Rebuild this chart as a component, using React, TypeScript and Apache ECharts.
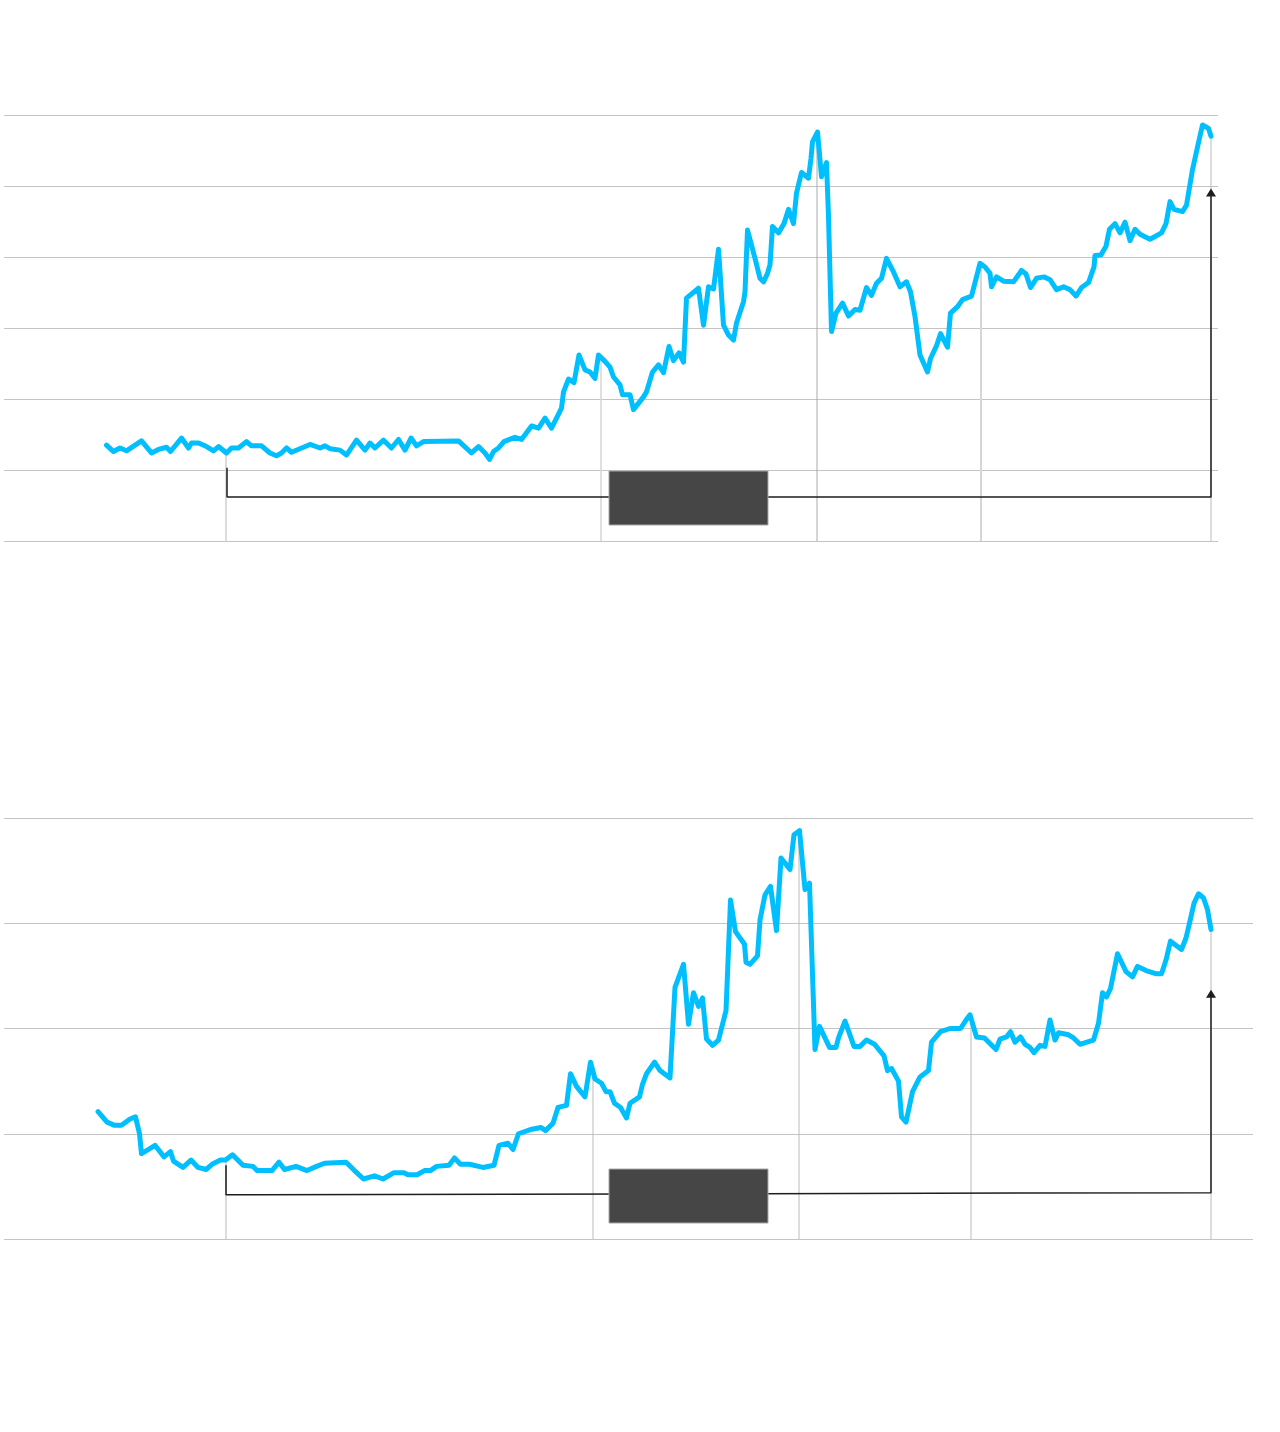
import React, { useEffect, useRef } from "react";
import * as echarts from "echarts";

// Period index (t) and value pairs
const topSeries: [number, number][] = [
  [20.5, 13.5], [21.9, 12.6], [23.2, 13.1], [24.5, 12.7], [27.5, 14.1], [29.5, 12.4], [30.9, 12.9],
  [32.5, 13.2], [33.3, 12.6], [35.5, 14.5], [36.9, 13.1], [37.5, 13.8], [38.9, 13.8], [40.5, 13.3],
  [41.9, 12.7], [42.9, 13.3], [44.5, 12.4], [45.5, 13.1], [46.9, 13.1], [48.5, 14.0], [49.5, 13.4],
  [51.5, 13.4], [53.2, 12.4], [54.5, 12.0], [55.5, 12.4], [56.5, 13.1], [57.5, 12.5], [61.2, 13.6],
  [63.2, 13.1], [64.2, 13.4], [65.2, 13.0], [67.2, 12.8], [68.5, 12.1], [70.5, 14.2], [72.2, 12.8],
  [73.2, 13.8], [74.2, 13.1], [75.9, 14.2], [77.5, 13.1], [78.9, 14.3], [80.2, 12.8], [81.4, 14.5],
  [82.5, 13.4], [83.9, 14.0], [90.9, 14.1], [93.5, 12.4], [94.9, 13.3], [96.2, 12.4], [97.1, 11.5],
  [97.9, 12.6], [98.9, 13.1], [100.0, 14.0], [102.2, 14.6], [103.5, 14.3], [105.5, 16.2], [106.9, 15.9],
  [108.2, 17.3], [109.5, 15.9], [110.5, 17.3], [111.5, 18.7], [111.9, 21.0], [112.9, 22.8], [114.0, 22.3],
  [115.0, 26.2], [116.2, 24.1], [117.2, 23.8], [118.2, 22.9], [118.9, 26.2], [120.2, 25.3], [121.2, 24.5],
  [121.9, 23.1], [123.2, 22.0], [123.7, 20.6], [125.2, 20.6], [125.9, 18.5], [127.9, 20.3], [128.5, 21.0],
  [129.7, 23.8], [130.9, 24.8], [131.9, 23.7], [133.0, 27.4], [133.9, 25.4], [135.0, 26.5], [135.9, 25.2],
  [136.5, 34.2], [138.9, 35.6], [139.9, 30.4], [140.9, 35.8], [141.9, 35.5], [142.9, 41.1], [143.9, 30.4],
  [144.9, 29.0], [145.9, 28.3], [146.5, 30.7], [147.9, 33.7], [148.2, 35.1], [148.7, 43.8], [150.2, 39.8],
  [151.2, 37.0], [151.9, 36.5], [152.7, 37.7], [153.2, 38.9], [153.7, 44.3], [154.9, 43.4], [156.0, 44.7],
  [156.9, 46.7], [157.9, 44.7], [158.5, 49.0], [159.5, 51.9], [160.9, 51.1], [161.4, 53.9], [161.7, 56.2],
  [162.7, 57.6], [163.5, 51.3], [164.5, 53.3], [164.9, 45.7], [165.5, 29.5], [166.4, 32.1], [167.7, 33.5],
  [168.9, 31.7], [170.2, 32.6], [171.2, 32.5], [172.5, 35.7], [173.5, 34.6], [174.5, 36.3], [175.5, 37.0],
  [176.5, 39.8], [177.9, 37.9], [179.2, 35.8], [180.5, 36.5], [181.3, 35.1], [182.2, 31.6], [183.2, 26.2],
  [184.7, 23.8], [185.3, 25.7], [186.5, 27.5], [187.3, 29.2], [188.7, 27.3], [189.3, 32.1], [190.7, 33.0],
  [191.7, 34.0], [193.5, 34.5], [195.2, 39.1], [196.2, 38.6], [197.2, 37.7], [197.5, 35.8], [198.5, 37.2],
  [199.9, 36.6], [201.9, 36.5], [203.5, 38.1], [204.4, 37.6], [205.3, 35.7], [206.5, 37.0], [208.0, 37.2],
  [209.2, 36.8], [210.5, 35.4], [211.9, 35.8], [213.2, 35.4], [214.4, 34.5], [215.5, 35.7], [216.9, 36.4],
  [218.0, 38.6], [218.2, 40.2], [219.4, 40.3], [220.4, 41.5], [221.1, 43.9], [222.2, 44.7], [223.2, 43.4],
  [224.2, 44.9], [225.2, 42.3], [226.2, 43.9], [227.2, 43.2], [229.2, 42.5], [231.5, 43.4], [232.4, 44.7],
  [233.2, 47.8], [234.0, 46.7], [235.7, 46.4], [236.5, 47.3], [237.7, 52.3], [238.7, 55.5], [239.7, 58.6],
  [240.9, 58.1], [241.4, 57.0],
];

const bottomSeries: [number, number][] = [
  [18.8, 12.1], [20.6, 11.1], [22.1, 10.8], [23.5, 10.8], [25.2, 11.4], [26.3, 11.6], [27.1, 10.0],
  [27.5, 8.1], [30.2, 8.9], [32.0, 7.8], [33.3, 8.3], [33.9, 7.4], [35.8, 6.8], [37.4, 7.5], [38.8, 6.8],
  [40.4, 6.6], [41.6, 7.1], [43.3, 7.5], [44.3, 7.5], [45.7, 8.0], [47.8, 7.0], [49.8, 6.9], [50.6, 6.5],
  [53.6, 6.5], [55.0, 7.3], [56.1, 6.6], [58.4, 6.9], [60.6, 6.5], [62.5, 6.9], [64.1, 7.2], [68.4, 7.3],
  [70.1, 6.5], [71.9, 5.7], [74.1, 6.0], [75.8, 5.7], [78.0, 6.3], [80.0, 6.3], [80.8, 6.1], [82.6, 6.1],
  [84.1, 6.5], [85.3, 6.5], [86.5, 6.9], [89.0, 7.0], [90.1, 7.7], [91.3, 7.1], [93.1, 7.1], [95.8, 6.8],
  [98.0, 7.0], [99.0, 8.9], [100.8, 9.1], [101.8, 8.5], [102.9, 10.0], [105.3, 10.4], [107.4, 10.6],
  [108.3, 10.3], [109.8, 11.0], [110.8, 12.5], [112.5, 12.7], [113.3, 15.7], [114.5, 14.5], [116.2, 13.5],
  [117.3, 16.8], [118.2, 15.2], [119.5, 14.8], [120.4, 14.0], [121.2, 14.0], [122.1, 12.9], [123.3, 12.5],
  [124.5, 11.5], [125.2, 12.9], [127.1, 13.5], [127.7, 14.7], [128.5, 15.7], [130.1, 16.8], [131.2, 16.0],
  [133.2, 15.3], [134.2, 23.9], [135.9, 26.1], [136.9, 20.4], [137.9, 23.4], [138.9, 22.1], [139.7, 22.9],
  [140.5, 19.0], [141.7, 18.4], [142.9, 18.9], [144.4, 21.7], [145.3, 32.2], [146.3, 29.2], [148.1, 28.0],
  [148.4, 26.3], [149.2, 26.1], [150.7, 26.9], [151.2, 30.3], [152.2, 32.7], [153.3, 33.5], [154.5, 29.3],
  [155.4, 36.2], [157.2, 35.1], [158.0, 38.4], [159.1, 38.8], [160.2, 33.2], [161.1, 33.8], [162.2, 18.0],
  [163.1, 20.2], [165.1, 18.2], [166.4, 18.2], [166.9, 19.1], [168.2, 20.7], [170.0, 18.3], [171.2, 18.3],
  [172.5, 18.9], [174.1, 18.5], [176.0, 17.4], [176.7, 16.0], [177.5, 16.2], [178.9, 15.0], [179.5, 11.6],
  [180.4, 11.1], [181.7, 14.0], [183.2, 15.4], [184.9, 16.0], [185.5, 18.7], [187.3, 19.7], [189.2, 20.0],
  [191.3, 20.0], [192.4, 20.8], [193.2, 21.3], [194.5, 19.2], [196.1, 19.1], [198.4, 18.0], [199.2, 19.0],
  [200.5, 19.2], [201.3, 19.7], [202.2, 18.7], [203.3, 19.2], [204.2, 18.5], [205.2, 18.2], [206.0, 17.7],
  [207.2, 18.4], [208.2, 18.3], [209.2, 20.8], [210.2, 18.9], [210.9, 19.6], [212.9, 19.4], [213.9, 19.1],
  [215.2, 18.5], [217.2, 18.8], [217.9, 18.9], [218.9, 20.5], [219.7, 23.4], [220.5, 23.0], [221.3, 23.8],
  [222.7, 27.1], [224.4, 25.4], [225.7, 24.9], [226.7, 25.9], [228.4, 25.5], [230.5, 25.2], [231.5, 25.2],
  [232.4, 26.5], [233.3, 28.3], [235.5, 27.5], [236.4, 28.6], [237.2, 30.2], [238.0, 31.9], [238.9, 32.8],
  [239.9, 32.4], [240.7, 31.3], [241.4, 29.4],
];

// Drop lines: [t, value at top, colour, width]
const topDrops: [number, number, string, number][] = [
  [44.4, 12.6, "#dcdcdc", 2],
  [119.4, 25.8, "#d6d6d6", 1.5],
  [162.6, 57.6, "#aaaaaa", 1],
  [195.4, 39.0, "#d6d6d6", 2],
  [241.4, 57.0, "#bbbbbb", 1],
];
const bottomDrops: [number, number, string, number][] = [
  [44.4, 7.5, "#dcdcdc", 2],
  [117.8, 16.0, "#bbbbbb", 1],
  [159.0, 38.8, "#bbbbbb", 1],
  [193.4, 21.1, "#bbbbbb", 1],
  [241.4, 29.4, "#bbbbbb", 1],
];

// Bracket / arrow annotation paths
const topBracket: [number, number][] = [[44.6, 10.3], [44.6, 6.2], [241.4, 6.2], [241.4, 48.8]];
const topArrow: [number, number][] = [[241.4, 49.1]];
const bottomBracket: [number, number][] = [[44.4, 7.0], [44.4, 4.2], [241.4, 4.4], [241.4, 23.0]];
const bottomArrow: [number, number][] = [[241.4, 23.3]];

const GRID_COLOR = "#c4c4c4";
const LINE_COLOR = "#00bfff";

export default function App() {
  const ref = useRef<HTMLDivElement>(null);
  useEffect(() => {
    if (!ref.current) return;
    const chart = echarts.init(ref.current, null, { renderer: "svg" });

    const mkX = (gridIndex: number, max: number) => ({
      type: "value",
      gridIndex,
      min: 0,
      max,
      axisLine: { show: false },
      axisTick: { show: false },
      axisLabel: { show: false },
      splitLine: { show: false },
    });
    const mkY = (gridIndex: number, max: number) => ({
      type: "value",
      gridIndex,
      min: 0,
      max,
      interval: 10,
      axisLine: { show: false },
      axisTick: { show: false },
      axisLabel: { show: false },
      splitLine: { show: true, lineStyle: { color: GRID_COLOR, width: 1 } },
    });

    const drops = (arr: [number, number, string, number][], idx: number) =>
      arr.map(([t, v, c, w]) => ({
        type: "line",
        xAxisIndex: idx,
        yAxisIndex: idx,
        data: [[t, v], [t, 0]],
        symbol: "none",
        z: 1,
        lineStyle: { color: c, width: w },
        silent: true,
      }));

    const main = (data: [number, number][], idx: number) => ({
      type: "line",
      xAxisIndex: idx,
      yAxisIndex: idx,
      data,
      symbol: "none",
      z: 5,
      lineStyle: { color: LINE_COLOR, width: 5, join: "round", cap: "round" },
    });

    const bracket = (data: [number, number][], idx: number) => ({
      type: "line",
      xAxisIndex: idx,
      yAxisIndex: idx,
      data,
      symbol: "none",
      z: 3,
      lineStyle: { color: "#1e1e1e", width: 1.5 },
    });

    const arrow = (data: [number, number][], idx: number) => ({
      type: "scatter",
      xAxisIndex: idx,
      yAxisIndex: idx,
      data,
      symbol: "triangle",
      symbolSize: [10, 8],
      z: 4,
      itemStyle: { color: "#1e1e1e", opacity: 1 },
    });

    chart.setOption({
      animation: false,
      backgroundColor: "#ffffff",
      grid: [
        { left: 4, right: 62, top: 115, height: 426 },
        { left: 4, right: 27, top: 818, height: 421 },
      ],
      xAxis: [mkX(0, 242.8), mkX(1, 249.8)],
      yAxis: [mkY(0, 60), mkY(1, 40)],
      series: [
        ...drops(topDrops, 0),
        ...drops(bottomDrops, 1),
        bracket(topBracket, 0),
        bracket(bottomBracket, 1),
        arrow(topArrow, 0),
        arrow(bottomArrow, 1),
        main(topSeries, 0),
        main(bottomSeries, 1),
      ],
      graphic: [
        {
          type: "rect",
          shape: { x: 609, y: 471, width: 159, height: 54 },
          style: { fill: "#464646", stroke: "#a8a8a8", lineWidth: 1 },
          z: 10,
        },
        {
          type: "rect",
          shape: { x: 609, y: 1169, width: 159, height: 54 },
          style: { fill: "#464646", stroke: "#a8a8a8", lineWidth: 1 },
          z: 10,
        },
      ],
    });
    return () => chart.dispose();
  }, []);

  return (
    <div
      ref={ref}
      style={{ position: "absolute", left: 0, top: 0, width: 1280, height: 1432, background: "#fff" }}
    />
  );
}
